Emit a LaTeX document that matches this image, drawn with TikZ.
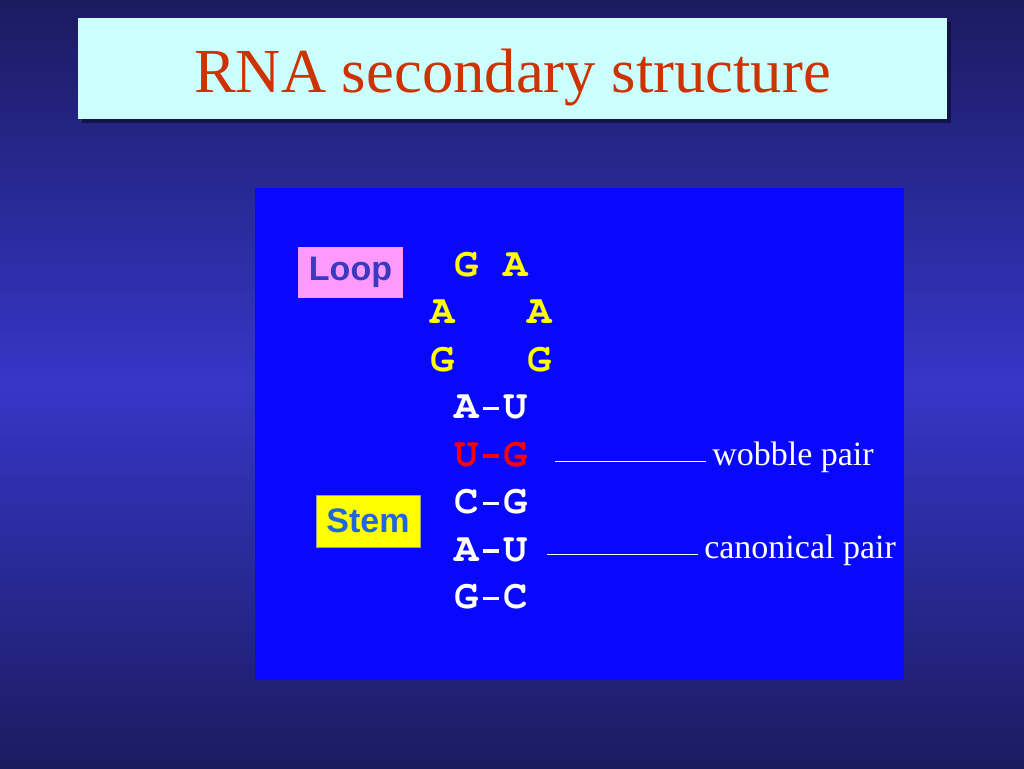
\documentclass[tikz,border=0pt]{standalone}
\usepackage{fontspec}
\setmainfont{Liberation Serif}
\newfontfamily\arialf{Liberation Sans}
\newfontfamily\monof{texgyrecursor}[Extension=.otf, UprightFont=*-regular, BoldFont=*-bold]
\definecolor{bgdark}{HTML}{1B1B60}
\definecolor{bgmid}{HTML}{3636C8}
\definecolor{titlebg}{HTML}{CCFFFF}
\definecolor{titlefg}{HTML}{CC3300}
\definecolor{panel}{HTML}{0808FF}
\definecolor{loopbg}{HTML}{FF99FF}
\definecolor{loopfg}{HTML}{3A3AC0}
\definecolor{stembg}{HTML}{FFFF00}
\definecolor{stemfg}{HTML}{2266DD}
\definecolor{baseY}{HTML}{FFFF00}
\definecolor{baseR}{HTML}{FF0000}
\definecolor{shadowc}{HTML}{10103A}
\tikzset{
  base/.style={anchor=base, inner sep=0pt, font=\monof\bfseries\fontsize{30.5}{30}\selectfont},
  lab/.style={anchor=base west, inner sep=0pt, text=white, font=\fontsize{25.5}{26}\selectfont},
  tag/.style={inner sep=0pt, font=\arialf\bfseries\fontsize{25.5}{26}\selectfont},
  leader/.style={draw=white, line width=0.6pt}
}
\newcommand{\gp}{\hphantom{A}}
\newcommand{\dsh}{\makebox[0.6em][c]{\rule[0.2em]{0.375em}{0.095em}}}
\begin{document}
\begin{tikzpicture}[x=0.75pt,y=-0.75pt]
\useasboundingbox (0,0) rectangle (1024,768);
\shade[top color=bgdark, bottom color=bgdark, middle color=bgmid] (0,0) rectangle (1024,768);
% title
\fill[shadowc, opacity=0.8] (82,22) rectangle (951,123);
\fill[titlebg] (78,18) rectangle (947,119);
\node[anchor=base, inner sep=0pt, text=titlefg, font=\fontsize{47}{47}\selectfont] (title) at (512.5,92) {RNA secondary structure};
% panel
\fill[panel] (255,188) rectangle (904,680);
% tags
\node[tag, fill=loopbg, text=loopfg, minimum width=105*0.75pt, minimum height=51*0.75pt] (loop) at (350.5,272.5) {Loop};
\node[tag, fill=stembg, text=stemfg, draw=black!40, line width=0.4pt, minimum width=104*0.75pt, minimum height=52*0.75pt] (stem) at (368,521) {Stem};
% bases
\node[base, text=baseY] (r1) at (491,276) {G\gp A};
\node[base, text=baseY] (r2) at (491,323.5) {A\gp\gp\gp A};
\node[base, text=baseY] (r3) at (491,371) {G\gp\gp\gp G};
\node[base, text=white] (r4) at (491,418.5) {A\dsh U};
\node[base, text=baseR] (r5) at (491,466) {U\dsh G};
\node[base, text=white] (r6) at (491,513.5) {C\dsh G};
\node[base, text=white] (r7) at (491,561) {A\dsh U};
\node[base, text=white] (r8) at (491,608.5) {G\dsh C};
% labels
\node[lab] (wob) at (712,465) {wobble pair};
\node[lab] (can) at (704,558) {canonical pair};
\coordinate (w0) at (555,461);
\coordinate (w1) at (706,461);
\coordinate (c0) at (547,554);
\coordinate (c1) at (698,554);
\draw[leader] (w0) -- (w1);
\draw[leader] (c0) -- (c1);
\end{tikzpicture}
\end{document}
